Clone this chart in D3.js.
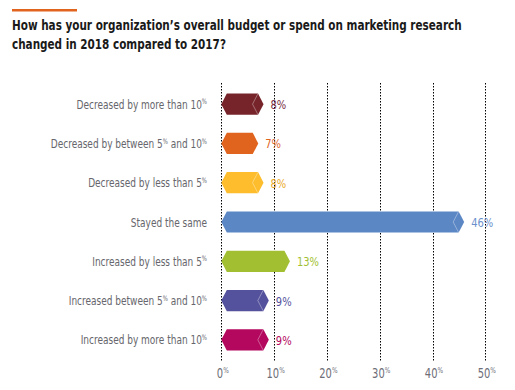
<!DOCTYPE html>
<html><head><meta charset="utf-8">
<script src="https://cdn.jsdelivr.net/npm/d3@7"></script>
<style>
html,body{margin:0;padding:0;background:#fff;}
svg{display:block;}
text{font-stretch:condensed;}
</style></head>
<body>
<script>
const categories = [
  "Decreased by more than 10%",
  "Decreased by between 5% and 10%",
  "Decreased by less than 5%",
  "Stayed the same",
  "Increased by less than 5%",
  "Increased between 5% and 10%",
  "Increased by more than 10%"
];
const values = [8, 7, 8, 46, 13, 9, 9];
const valueLabels = ["8%", "7%", "8%", "46%", "13%", "9%", "9%"];
const tickValues = [0, 10, 20, 30, 40, 50];
const tickLabels = ["0%", "10%", "20%", "30%", "40%", "50%"];
const barColors = ["#76242a", "#e0641e", "#fdbd2c", "#5c87c5", "#a2bf31", "#55529d", "#b4075e"];
const labelColors = ["#7a2c42", "#e0641e", "#e9aa2a", "#6b8fcc", "#a2bf31", "#55529d", "#b4075e"];
const facet = [true, false, true, true, false, true, true];
const titleLines = ["How has your organization\u2019s overall budget or spend on marketing research", "changed in 2018 compared to 2017?"];

const W = 515, H = 390;
const svg = d3.select("body").append("svg").attr("width", W).attr("height", H);
const font = "'DejaVu Sans Condensed', 'DejaVu Sans', sans-serif";

// text placed at (px,py), horizontally condensed by k to mimic a narrow typeface
function addText(parent, px, py, k) {
  return parent.append("text")
    .attr("transform", `translate(${px},${py}) scale(${k},1)`)
    .attr("font-family", font);
}

// title accent line
svg.append("rect").attr("x", 12).attr("y", 9).attr("width", 65).attr("height", 2.5).attr("fill", "#e0641e");
const titleG = svg.append("g");
titleLines.forEach((t, i) => {
  addText(titleG, 12, 30 + i * 19, 0.8)
    .attr("font-size", 14.5).attr("font-weight", "bold").attr("fill", "#1a1a1a").text(t);
});

const x = d3.scaleLinear().domain([0, 50]).range([221.3, 485.3]);
const y = d3.scaleBand().domain(categories).range([84.5, 359.5]).paddingInner(0.46).paddingOuter(0.23);

// gridlines
svg.append("g").selectAll("line").data(tickValues).join("line")
  .attr("x1", d => Math.round(x(d)) + 0.5).attr("x2", d => Math.round(x(d)) + 0.5)
  .attr("y1", 83).attr("y2", 361)
  .attr("stroke", "#000").attr("stroke-width", 1).attr("stroke-dasharray", "1.5,1.5");

// text with superscript percent signs
function pctText(sel, str, size, supSize) {
  const parts = str.split("%");
  const up = size * 0.35;
  parts.forEach((p, i) => {
    const t = sel.append("tspan").text(p);
    if (i > 0) t.attr("dy", up);
    if (i < parts.length - 1) {
      sel.append("tspan").attr("font-size", supSize).attr("dy", -up).text("%");
    }
  });
}
const axisG = svg.append("g");
tickValues.forEach((t, i) => {
  const txt = addText(axisG, x(t) + 1.5, 377.5, 0.82)
    .attr("text-anchor", "middle").attr("font-size", 13.5).attr("fill", "#6e6e78");
  pctText(txt, tickLabels[i], 13.5, 8);
});

// category labels
const catG = svg.append("g");
categories.forEach((c, i) => {
  const txt = addText(catG, 207, y(c) + y.bandwidth() / 2 + 4.5, 0.8)
    .attr("text-anchor", "end").attr("font-size", 12.5).attr("fill", "#66666c");
  pctText(txt, c, 12.5, 7.5);
});

// bars (hexagon shapes)
const ind = 5.5;
function hexPath(x0, x1, yt, h) {
  const ym = yt + h / 2, yb = yt + h;
  return `M${x0},${ym}L${x0 + ind},${yt}L${x1 - ind},${yt}L${x1},${ym}L${x1 - ind},${yb}L${x0 + ind},${yb}Z`;
}
const bars = svg.append("g");
const valG = svg.append("g");
categories.forEach((c, i) => {
  const yt = y(c), h = y.bandwidth();
  const x0 = x(0), x1 = x(values[i]);
  bars.append("path").attr("d", hexPath(x0, x1, yt, h)).attr("fill", barColors[i]);
  if (facet[i]) {
    const cx = x1 - ind;
    bars.append("path")
      .attr("d", `M${cx},${yt}L${cx - ind},${yt + h / 2}L${cx},${yt + h}`)
      .attr("fill", "none").attr("stroke", "rgba(255,255,255,0.35)").attr("stroke-width", 1);
  }
  addText(valG, x1 + 7, yt + h / 2 + 5, 0.85)
    .attr("font-size", 13).attr("fill", labelColors[i])
    .text(valueLabels[i]);
});
</script>
</body></html>
